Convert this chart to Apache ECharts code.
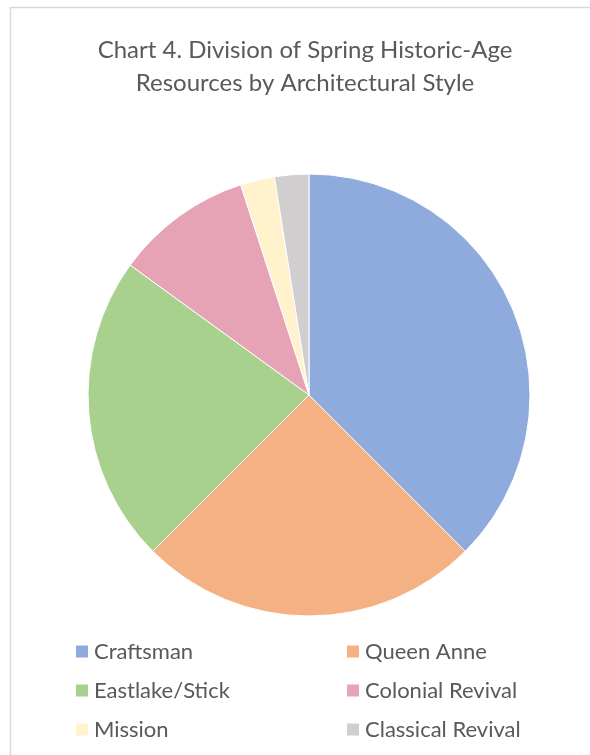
<!DOCTYPE html>
<html>
<head>
<meta charset="utf-8">
<script src="https://cdn.jsdelivr.net/npm/echarts@6/dist/echarts.min.js"></script>
<style>
  html, body { margin: 0; padding: 0; background: #ffffff; }
  #chart { width: 590px; height: 755px; }
</style>
</head>
<body>
<div id="chart"></div>
<script>
// Architectural style counts for historic-age resources
const styles = ['Craftsman', 'Queen Anne', 'Eastlake/Stick', 'Colonial Revival', 'Mission', 'Classical Revival'];
const counts = [15, 10, 9, 4, 1, 1];
const colors = ['#8faadc', '#f4b183', '#a9d18e', '#e5a3b5', '#fff2cc', '#d0cece'];

const FONT = 'Lato, "Open Sans", sans-serif';
const TEXT = '#595959';

const chart = echarts.init(document.getElementById('chart'), null, { renderer: 'canvas' });

const legendCommon = {
  orient: 'vertical',
  icon: 'rect',
  itemWidth: 14,
  itemHeight: 14,
  itemGap: 17,
  padding: 0,
  top: 640.5,
  selectedMode: false,
  textStyle: { color: TEXT, fontSize: 22, fontFamily: FONT, lineHeight: 22 }
};

chart.setOption({
  animation: false,
  color: colors,
  title: {
    text: 'Chart 4. Division of Spring Historic-Age\nResources by Architectural Style',
    left: 305,
    textAlign: 'center',
    top: 34,
    padding: 0,
    textStyle: { color: TEXT, fontSize: 24, fontWeight: 'normal', fontFamily: FONT, lineHeight: 33 }
  },
  legend: [
    Object.assign({}, legendCommon, { left: 74, data: [styles[0], styles[2], styles[4]] }),
    Object.assign({}, legendCommon, { left: 345, data: [styles[1], styles[3], styles[5]] })
  ],
  graphic: [
    {
      type: 'polyline',
      silent: true,
      shape: { points: [[10.5, 760], [10.5, 7.5], [600, 7.5]] },
      style: { stroke: '#d9d9d9', lineWidth: 1.5, fill: null }
    }
  ],
  series: [
    {
      type: 'pie',
      center: [309, 395],
      radius: 221,
      startAngle: 90,
      clockwise: true,
      label: { show: false },
      labelLine: { show: false },
      emphasis: { disabled: true },
      itemStyle: { borderColor: '#ffffff', borderWidth: 1 },
      data: styles.map((name, i) => ({ name: name, value: counts[i] }))
    }
  ]
});
</script>
</body>
</html>
